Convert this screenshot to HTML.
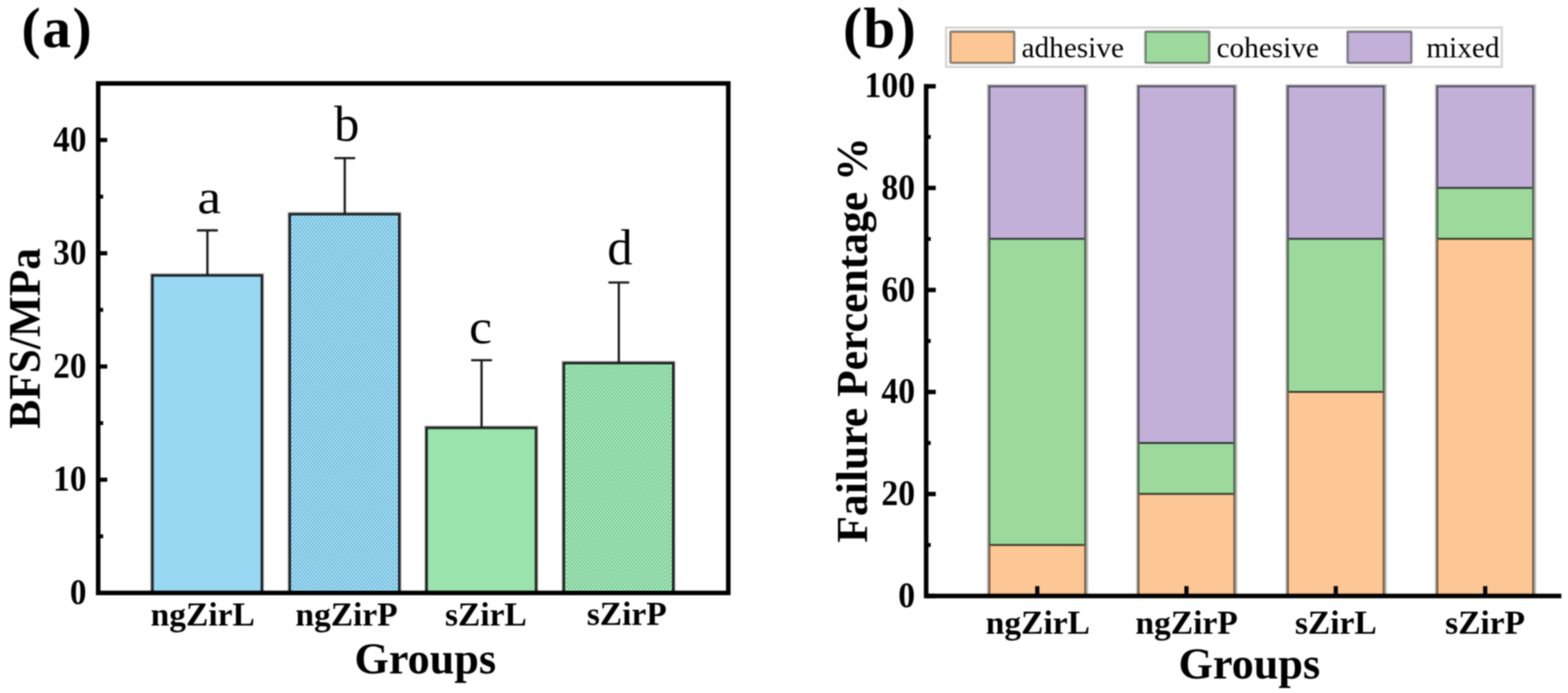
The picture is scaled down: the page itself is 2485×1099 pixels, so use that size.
<!DOCTYPE html>
<html lang="en"><head><meta charset="utf-8"><title>BFS and failure mode charts</title>
<style>
html,body{margin:0;padding:0;background:#fff;}
body{width:2485px;height:1099px;overflow:hidden;}
svg{display:block;}
text{font-family:"Liberation Serif",serif;fill:#000;}
.b{font-weight:bold;}
</style></head><body>
<svg width="2485" height="1099" viewBox="0 0 2485 1099">
<defs>
<pattern id="hb" width="4" height="4" patternUnits="userSpaceOnUse" patternTransform="rotate(-52)"><rect width="4" height="4" fill="#a0e4fb"/><rect width="4" height="2" fill="#7cb6d6"/></pattern>
<pattern id="hg" width="4" height="4" patternUnits="userSpaceOnUse" patternTransform="rotate(-52)"><rect width="4" height="4" fill="#a2efba"/><rect width="4" height="2" fill="#84c49a"/></pattern>
<filter id="soft" x="0" y="0" width="2485" height="1099" filterUnits="userSpaceOnUse" color-interpolation-filters="sRGB"><feConvolveMatrix order="5" kernelMatrix="1 4 6 4 1 4 16 24 16 4 6 24 36 24 6 4 16 24 16 4 1 4 6 4 1" divisor="256" edgeMode="duplicate" preserveAlpha="true"/></filter>
<filter id="soft3" x="0" y="0" width="1" height="1" color-interpolation-filters="sRGB"><feConvolveMatrix order="3" kernelMatrix="1 2 1 2 4 2 1 2 1" divisor="16" edgeMode="duplicate" preserveAlpha="true"/></filter>
</defs>
<g filter="url(#soft)">
<rect width="2485" height="1099" fill="#fff"/>
<g id="panel-a">
<text class="b" x="34" y="74.5" font-size="91" letter-spacing="2.6">(a)</text>
<rect x="238.1" y="433.33" width="180.4" height="506.97" fill="#000" fill-opacity="0.3"/>
<rect x="241.6" y="436.83" width="173.4" height="503.47" fill="#fff"/>
<rect x="241.6" y="436.83" width="173.4" height="503.47" fill="#99d8f3" stroke="#000" stroke-opacity="0.82" stroke-width="4.0"/>
<path d="M328.7 436.83V365.36M312.2 365.36H345.2" fill="none" stroke="#1c1c1c" stroke-width="3.6"/>
<rect x="455.8" y="336.19" width="180.4" height="604.11" fill="#000" fill-opacity="0.3"/>
<rect x="459.3" y="339.69" width="173.4" height="600.61" fill="#fff"/>
<rect x="459.3" y="339.69" width="173.4" height="600.61" fill="#8ecde8" stroke="#000" stroke-opacity="0.82" stroke-width="4.0"/>
<path d="M546.4 339.69V250.81M529.9 250.81H562.9" fill="none" stroke="#1c1c1c" stroke-width="3.6"/>
<rect x="672.6" y="675.01" width="180.4" height="265.29" fill="#000" fill-opacity="0.3"/>
<rect x="676.1" y="678.51" width="173.4" height="261.79" fill="#fff"/>
<rect x="676.1" y="678.51" width="173.4" height="261.79" fill="#9ae3ad" stroke="#000" stroke-opacity="0.82" stroke-width="4.0"/>
<path d="M763.2 678.51V571.31M746.7 571.31H779.7" fill="none" stroke="#1c1c1c" stroke-width="3.6"/>
<rect x="890.1" y="572.3" width="180.4" height="368" fill="#000" fill-opacity="0.3"/>
<rect x="893.6" y="575.8" width="173.4" height="364.5" fill="#fff"/>
<rect x="893.6" y="575.8" width="173.4" height="364.5" fill="#93d9aa" stroke="#000" stroke-opacity="0.82" stroke-width="4.0"/>
<path d="M980.7 575.8V447.96M964.2 447.96H997.2" fill="none" stroke="#1c1c1c" stroke-width="3.6"/>
<text transform="translate(331.6 338.4) scale(1.1 1)" font-size="77" text-anchor="middle">a</text>
<text transform="translate(549.5 223) scale(1 1)" font-size="80" text-anchor="middle">b</text>
<text transform="translate(761.6 544.2) scale(1.06 1)" font-size="77" text-anchor="middle">c</text>
<text transform="translate(982.5 419) scale(1 1)" font-size="80" text-anchor="middle">d</text>
<line x1="155.6" y1="760.74" x2="170" y2="760.74" stroke="#000" stroke-width="6.6"/>
<line x1="155.6" y1="581.19" x2="170" y2="581.19" stroke="#000" stroke-width="6.6"/>
<line x1="155.6" y1="401.63" x2="170" y2="401.63" stroke="#000" stroke-width="6.6"/>
<line x1="155.6" y1="222.08" x2="170" y2="222.08" stroke="#000" stroke-width="6.6"/>
<line x1="155.6" y1="850.52" x2="163.5" y2="850.52" stroke="#000" stroke-width="6.2"/>
<line x1="155.6" y1="670.97" x2="163.5" y2="670.97" stroke="#000" stroke-width="6.2"/>
<line x1="155.6" y1="491.41" x2="163.5" y2="491.41" stroke="#000" stroke-width="6.2"/>
<line x1="155.6" y1="311.86" x2="163.5" y2="311.86" stroke="#000" stroke-width="6.2"/>
<rect x="155.6" y="132.3" width="998.6" height="808" fill="none" stroke="#000" stroke-width="7.2"/>
<text class="b" transform="translate(137 957.8) scale(0.935 1)" font-size="56.3" text-anchor="end">0</text>
<text class="b" transform="translate(137 778.24) scale(0.935 1)" font-size="56.3" text-anchor="end">10</text>
<text class="b" transform="translate(137 598.69) scale(0.935 1)" font-size="56.3" text-anchor="end">20</text>
<text class="b" transform="translate(137 419.13) scale(0.935 1)" font-size="56.3" text-anchor="end">30</text>
<text class="b" transform="translate(137 239.58) scale(0.935 1)" font-size="56.3" text-anchor="end">40</text>
<text class="b" x="321.3" y="992.2" font-size="53" text-anchor="middle">ngZirL</text>
<text class="b" x="549.2" y="992.2" font-size="53" text-anchor="middle">ngZirP</text>
<text class="b" x="770" y="992.2" font-size="53" text-anchor="middle">sZirL</text>
<text class="b" x="993.3" y="990.6" font-size="53" text-anchor="middle">sZirP</text>
<text class="b" x="674" y="1067.5" font-size="70" text-anchor="middle">Groups</text>
<text class="b" transform="translate(63 536.6) rotate(-90) scale(0.965 1)" font-size="71.3" text-anchor="middle">BFS/MPa</text>
</g>
<g id="panel-b">
<text class="b" x="1336" y="74.5" font-size="91" letter-spacing="2">(b)</text>
<rect x="1499.3" y="43.7" width="880.8" height="62.3" fill="#fff" stroke="#d4d4d4" stroke-width="3.4"/>
<rect x="1506.2" y="50.1" width="101.3" height="49.6" rx="1.5" fill="#fcc795" stroke="#1e1e1e" stroke-opacity="0.5" stroke-width="3.6"/>
<text x="1619" y="90.5" font-size="46.4">adhesive</text>
<rect x="1815.3" y="50.1" width="101.3" height="49.6" rx="1.5" fill="#9dd99c" stroke="#1e1e1e" stroke-opacity="0.5" stroke-width="3.6"/>
<text x="1928" y="90.5" font-size="46.4">cohesive</text>
<rect x="2135.6" y="50.1" width="101.3" height="49.6" rx="1.5" fill="#c2b0d8" stroke="#1e1e1e" stroke-opacity="0.5" stroke-width="3.6"/>
<text x="2260.5" y="90.5" font-size="46.4">mixed</text>
<rect x="1564.3" y="133.8" width="160.1" height="811.4" fill="#000" fill-opacity="0.3"/>
<rect x="1566.7" y="864.31" width="154.4" height="80.89" fill="#fcc795"/>
<rect x="1566.7" y="378.97" width="154.4" height="485.34" fill="#9dd99c"/>
<rect x="1566.7" y="135.7" width="154.4" height="243.27" fill="#c2b0d8"/>
<rect x="1568.05" y="137.05" width="151.7" height="808.15" fill="none" stroke="#000" stroke-opacity="0.58" stroke-width="2.7"/>
<line x1="1569.4" y1="864.21" x2="1718.4" y2="864.21" stroke="#000" stroke-opacity="0.72" stroke-width="3"/>
<line x1="1569.4" y1="378.87" x2="1718.4" y2="378.87" stroke="#000" stroke-opacity="0.72" stroke-width="3"/>
<rect x="1800.7" y="133.8" width="160.1" height="811.4" fill="#000" fill-opacity="0.3"/>
<rect x="1803.1" y="783.42" width="154.4" height="161.78" fill="#fcc795"/>
<rect x="1803.1" y="702.53" width="154.4" height="80.89" fill="#9dd99c"/>
<rect x="1803.1" y="135.7" width="154.4" height="566.83" fill="#c2b0d8"/>
<rect x="1804.45" y="137.05" width="151.7" height="808.15" fill="none" stroke="#000" stroke-opacity="0.58" stroke-width="2.7"/>
<line x1="1805.8" y1="783.32" x2="1954.8" y2="783.32" stroke="#000" stroke-opacity="0.72" stroke-width="3"/>
<line x1="1805.8" y1="702.43" x2="1954.8" y2="702.43" stroke="#000" stroke-opacity="0.72" stroke-width="3"/>
<rect x="2037.4" y="133.8" width="160.1" height="811.4" fill="#000" fill-opacity="0.3"/>
<rect x="2039.8" y="621.64" width="154.4" height="323.56" fill="#fcc795"/>
<rect x="2039.8" y="378.97" width="154.4" height="242.67" fill="#9dd99c"/>
<rect x="2039.8" y="135.7" width="154.4" height="243.27" fill="#c2b0d8"/>
<rect x="2041.15" y="137.05" width="151.7" height="808.15" fill="none" stroke="#000" stroke-opacity="0.58" stroke-width="2.7"/>
<line x1="2042.5" y1="621.54" x2="2191.5" y2="621.54" stroke="#000" stroke-opacity="0.72" stroke-width="3"/>
<line x1="2042.5" y1="378.87" x2="2191.5" y2="378.87" stroke="#000" stroke-opacity="0.72" stroke-width="3"/>
<rect x="2274.2" y="133.8" width="160.1" height="811.4" fill="#000" fill-opacity="0.3"/>
<rect x="2276.6" y="378.97" width="154.4" height="566.23" fill="#fcc795"/>
<rect x="2276.6" y="298.08" width="154.4" height="80.89" fill="#9dd99c"/>
<rect x="2276.6" y="135.7" width="154.4" height="162.38" fill="#c2b0d8"/>
<rect x="2277.95" y="137.05" width="151.7" height="808.15" fill="none" stroke="#000" stroke-opacity="0.58" stroke-width="2.7"/>
<line x1="2279.3" y1="378.87" x2="2428.3" y2="378.87" stroke="#000" stroke-opacity="0.72" stroke-width="3"/>
<line x1="2279.3" y1="297.98" x2="2428.3" y2="297.98" stroke="#000" stroke-opacity="0.72" stroke-width="3"/>
<line x1="1643.9" y1="945.2" x2="1643.9" y2="929.5" stroke="#000" stroke-width="6.6"/>
<line x1="1880.3" y1="945.2" x2="1880.3" y2="929.5" stroke="#000" stroke-width="6.6"/>
<line x1="2117" y1="945.2" x2="2117" y2="929.5" stroke="#000" stroke-width="6.6"/>
<line x1="2353.8" y1="945.2" x2="2353.8" y2="929.5" stroke="#000" stroke-width="6.6"/>
<line x1="1467.8" y1="945.2" x2="1483" y2="945.2" stroke="#000" stroke-width="7"/>
<line x1="1467.8" y1="783.42" x2="1483" y2="783.42" stroke="#000" stroke-width="7"/>
<line x1="1467.8" y1="621.64" x2="1483" y2="621.64" stroke="#000" stroke-width="7"/>
<line x1="1467.8" y1="459.86" x2="1483" y2="459.86" stroke="#000" stroke-width="7"/>
<line x1="1467.8" y1="298.08" x2="1483" y2="298.08" stroke="#000" stroke-width="7"/>
<line x1="1467.8" y1="136.8" x2="1483" y2="136.8" stroke="#000" stroke-width="7"/>
<line x1="1467.8" y1="864.31" x2="1475" y2="864.31" stroke="#000" stroke-width="6.2"/>
<line x1="1467.8" y1="702.53" x2="1475" y2="702.53" stroke="#000" stroke-width="6.2"/>
<line x1="1467.8" y1="540.75" x2="1475" y2="540.75" stroke="#000" stroke-width="6.2"/>
<line x1="1467.8" y1="378.97" x2="1475" y2="378.97" stroke="#000" stroke-width="6.2"/>
<line x1="1467.8" y1="217.19" x2="1475" y2="217.19" stroke="#000" stroke-width="6.2"/>
<path d="M1467.8 133.3V945.2H2474.5" fill="none" stroke="#000" stroke-width="7.2" stroke-linecap="butt" stroke-linejoin="miter"/>
<text class="b" transform="translate(1450.2 963) scale(0.945 1)" font-size="56.6" text-anchor="end">0</text>
<text class="b" transform="translate(1450.2 801.22) scale(0.945 1)" font-size="56.6" text-anchor="end">20</text>
<text class="b" transform="translate(1450.2 639.44) scale(0.945 1)" font-size="56.6" text-anchor="end">40</text>
<text class="b" transform="translate(1450.2 477.66) scale(0.945 1)" font-size="56.6" text-anchor="end">60</text>
<text class="b" transform="translate(1450.2 315.88) scale(0.945 1)" font-size="56.6" text-anchor="end">80</text>
<text class="b" transform="translate(1450.2 154.1) scale(0.945 1)" font-size="56.6" text-anchor="end">100</text>
<text class="b" x="1644.8" y="1005" font-size="53" text-anchor="middle">ngZirL</text>
<text class="b" x="1880.6" y="1005" font-size="53" text-anchor="middle">ngZirP</text>
<text class="b" x="2117" y="1005" font-size="53" text-anchor="middle">sZirL</text>
<text class="b" x="2353.6" y="1005" font-size="53" text-anchor="middle">sZirP</text>
<text class="b" x="1980" y="1076" font-size="70" text-anchor="middle">Groups</text>
<text class="b" transform="translate(1373.6 539.2) rotate(-90)" font-size="69.2" text-anchor="middle">Failure Percentage %</text>
</g>
</g>
<g id="hatch">
<rect x="462.9" y="343.29" width="166.2" height="591.81" fill="url(#hb)" filter="url(#soft3)"/>
<rect x="897.2" y="579.4" width="166.2" height="355.7" fill="url(#hg)" filter="url(#soft3)"/>
</g>
</svg></body></html>
